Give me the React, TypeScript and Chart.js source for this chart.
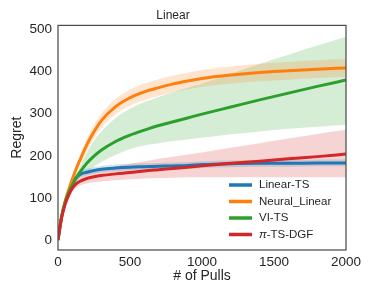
import React, { useEffect, useRef } from "react";
import { Chart, registerables } from "chart.js";

Chart.register(...registerables);

const pulls = [0, 25, 50, 75, 100, 125, 150, 200, 250, 300, 400, 500, 600, 700, 800, 900, 1000, 1200, 1400, 1600, 1800, 2000];

const linearTS = [0, 55, 90, 114, 133, 147, 155, 161, 165, 168, 171, 173, 174, 175, 176, 177, 179, 181, 182, 182, 183, 183];
const linearTSUpper = [0, 57, 93, 118, 138, 153, 162, 169, 173, 176, 179, 181, 182, 183, 184, 185, 187, 189, 190, 190, 191, 191];
const linearTSLower = [0, 53, 87, 110, 128, 141, 148, 153, 157, 160, 163, 165, 166, 167, 168, 169, 171, 173, 174, 174, 175, 175];

const neuralLinear = [0, 55, 92, 120, 145, 168, 188, 226, 257, 283, 317, 338, 352, 362, 371, 378, 384, 392, 398, 402, 406, 409];
const neuralLinearUpper = [0, 57, 96, 126, 153, 178, 200, 240, 273, 300, 335, 357, 372, 382, 391, 398, 404, 412, 419, 423, 427, 430];
const neuralLinearLower = [0, 53, 88, 114, 137, 158, 176, 212, 241, 266, 299, 319, 332, 342, 351, 358, 364, 372, 377, 381, 385, 388];

const viTS = [0, 55, 90, 113, 131, 147, 160, 182, 199, 213, 234, 249, 261, 272, 281, 290, 299, 316, 333, 349, 365, 380];
const viTSUpper = [0, 57, 93, 118, 138, 157, 174, 208, 236, 258, 290, 312, 328, 340, 351, 362, 372, 395, 418, 440, 462, 483];
const viTSLower = [0, 53, 87, 108, 124, 137, 147, 162, 174, 185, 202, 216, 225, 230, 235, 239, 243, 251, 258, 264, 269, 274];

const piTSDGF = [0, 52, 85, 107, 123, 133, 139, 146, 150, 153, 157, 160, 164, 167, 170, 173, 176, 182, 187, 193, 198, 204];
const piTSDGFUpper = [0, 54, 89, 113, 130, 142, 149, 157, 162, 166, 175, 181, 187, 193, 198, 203, 208, 219, 230, 241, 252, 262];
const piTSDGFLower = [0, 50, 81, 101, 116, 124, 129, 134, 137, 139, 142, 144, 146, 147, 148, 149, 149, 149, 149, 149, 149, 149];

const yTicks = [0, 100, 200, 300, 400, 500];
const titleText = "Linear";
const xLabel = "# of Pulls";
const yLabel = "Regret";

const series = [
  { label: "Linear-TS", mean: linearTS, upper: linearTSUpper, lower: linearTSLower, color: "#1f77b4", band: "rgba(31,119,180,0.2)", order: 4 },
  { label: "Neural_Linear", mean: neuralLinear, upper: neuralLinearUpper, lower: neuralLinearLower, color: "#ff7f0e", band: "rgba(255,127,14,0.2)", order: 3 },
  { label: "VI-TS", mean: viTS, upper: viTSUpper, lower: viTSLower, color: "#2ca02c", band: "rgba(44,160,44,0.2)", order: 2 },
  { label: "π-TS-DGF", mean: piTSDGF, upper: piTSDGFUpper, lower: piTSDGFLower, color: "#d62728", band: "rgba(214,39,40,0.2)", order: 1 },
];

const FONT = "'Liberation Sans', Arial, sans-serif";

const toPts = (arr: number[]) => arr.map((v, i) => ({ x: pulls[i], y: v }));

const frameAndLegend = {
  id: "frameAndLegend",
  afterDraw(chart: any) {
    const { ctx, chartArea } = chart;
    ctx.save();
    ctx.strokeStyle = "#4d4d4d";
    ctx.lineWidth = 1.25;
    ctx.strokeRect(chartArea.left, chartArea.top, chartArea.right - chartArea.left, chartArea.bottom - chartArea.top);
    const x0 = chartArea.right - 117;
    const x1 = chartArea.right - 94;
    const tx = chartArea.right - 87;
    let y = chartArea.bottom - 65;
    ctx.textBaseline = "middle";
    ctx.textAlign = "left";
    series.forEach((s) => {
      ctx.strokeStyle = s.color;
      ctx.lineWidth = 3.5;
      ctx.lineCap = "butt";
      ctx.beginPath();
      ctx.moveTo(x0, y);
      ctx.lineTo(x1, y);
      ctx.stroke();
      ctx.fillStyle = "#262626";
      if (s.label.startsWith("π")) {
        ctx.font = `italic 11.5px ${FONT}`;
        ctx.fillText("π", tx, y);
        const w = ctx.measureText("π").width;
        ctx.font = `11.5px ${FONT}`;
        ctx.fillText(s.label.slice(1), tx + w, y);
      } else {
        ctx.font = `11.5px ${FONT}`;
        ctx.fillText(s.label, tx, y);
      }
      y += 16.5;
    });
    ctx.restore();
  },
};

export default function App() {
  const ref = useRef<HTMLCanvasElement>(null);
  useEffect(() => {
    document.body.style.margin = "0";
    const datasets: any[] = [];
    series.forEach((s, i) => {
      datasets.push({
        label: s.label + " upper",
        data: toPts(s.upper),
        borderColor: "rgba(0,0,0,0)",
        borderWidth: 0,
        backgroundColor: s.band,
        pointRadius: 0,
        fill: "+1",
        cubicInterpolationMode: "monotone",
        order: 10 + i,
      });
      datasets.push({
        label: s.label + " lower",
        data: toPts(s.lower),
        borderColor: "rgba(0,0,0,0)",
        borderWidth: 0,
        backgroundColor: s.band,
        pointRadius: 0,
        fill: false,
        cubicInterpolationMode: "monotone",
        order: 10 + i,
      });
    });
    series.forEach((s) => {
      datasets.push({
        label: s.label,
        data: toPts(s.mean),
        borderColor: s.color,
        borderWidth: 3,
        pointRadius: 0,
        fill: false,
        cubicInterpolationMode: "monotone",
        order: s.order,
      });
    });
    const chart = new Chart(ref.current!, {
      type: "line",
      data: { datasets },
      options: {
        animation: false,
        responsive: false,
        maintainAspectRatio: false,
        layout: { padding: { left: 0, right: 28, top: 0, bottom: 0 } },
        plugins: {
          legend: { display: false },
          tooltip: { enabled: false },
          title: {
            display: true,
            text: titleText,
            color: "#262626",
            font: { family: FONT, size: 12, weight: "normal" },
            padding: { top: 8, bottom: 3 },
          },
        },
        scales: {
          x: {
            type: "linear",
            min: 0,
            max: 2000,
            grid: { display: false, drawTicks: false },
            border: { display: false },
            ticks: {
              stepSize: 500,
              color: "#262626",
              font: { family: FONT, size: 13.5 },
              padding: 4,
              maxRotation: 0,
              callback: (v: any) => String(v),
            },
            title: { display: true, text: xLabel, color: "#262626", font: { family: FONT, size: 14 }, padding: { top: 0, bottom: 14 } },
            afterFit: (s: any) => { s.height = 49; },
          },
          y: {
            type: "linear",
            min: -24,
            max: 510,
            grid: { display: false, drawTicks: false },
            border: { display: false },
            ticks: { color: "#262626", font: { family: FONT, size: 13.5 }, padding: 6, callback: (v: any) => String(v) },
            afterBuildTicks: (s: any) => { s.ticks = yTicks.map((v) => ({ value: v })); },
            title: { display: true, text: yLabel, color: "#262626", font: { family: FONT, size: 14 }, padding: { top: 9, bottom: 0 } },
            afterFit: (s: any) => { s.width = 58; },
          },
        },
      },
      plugins: [frameAndLegend],
    });
    return () => chart.destroy();
  }, []);
  return (
    <div style={{ width: 374, height: 299 }}>
      <canvas ref={ref} width={374} height={299} style={{ display: "block", width: 374, height: 299 }} />
    </div>
  );
}
